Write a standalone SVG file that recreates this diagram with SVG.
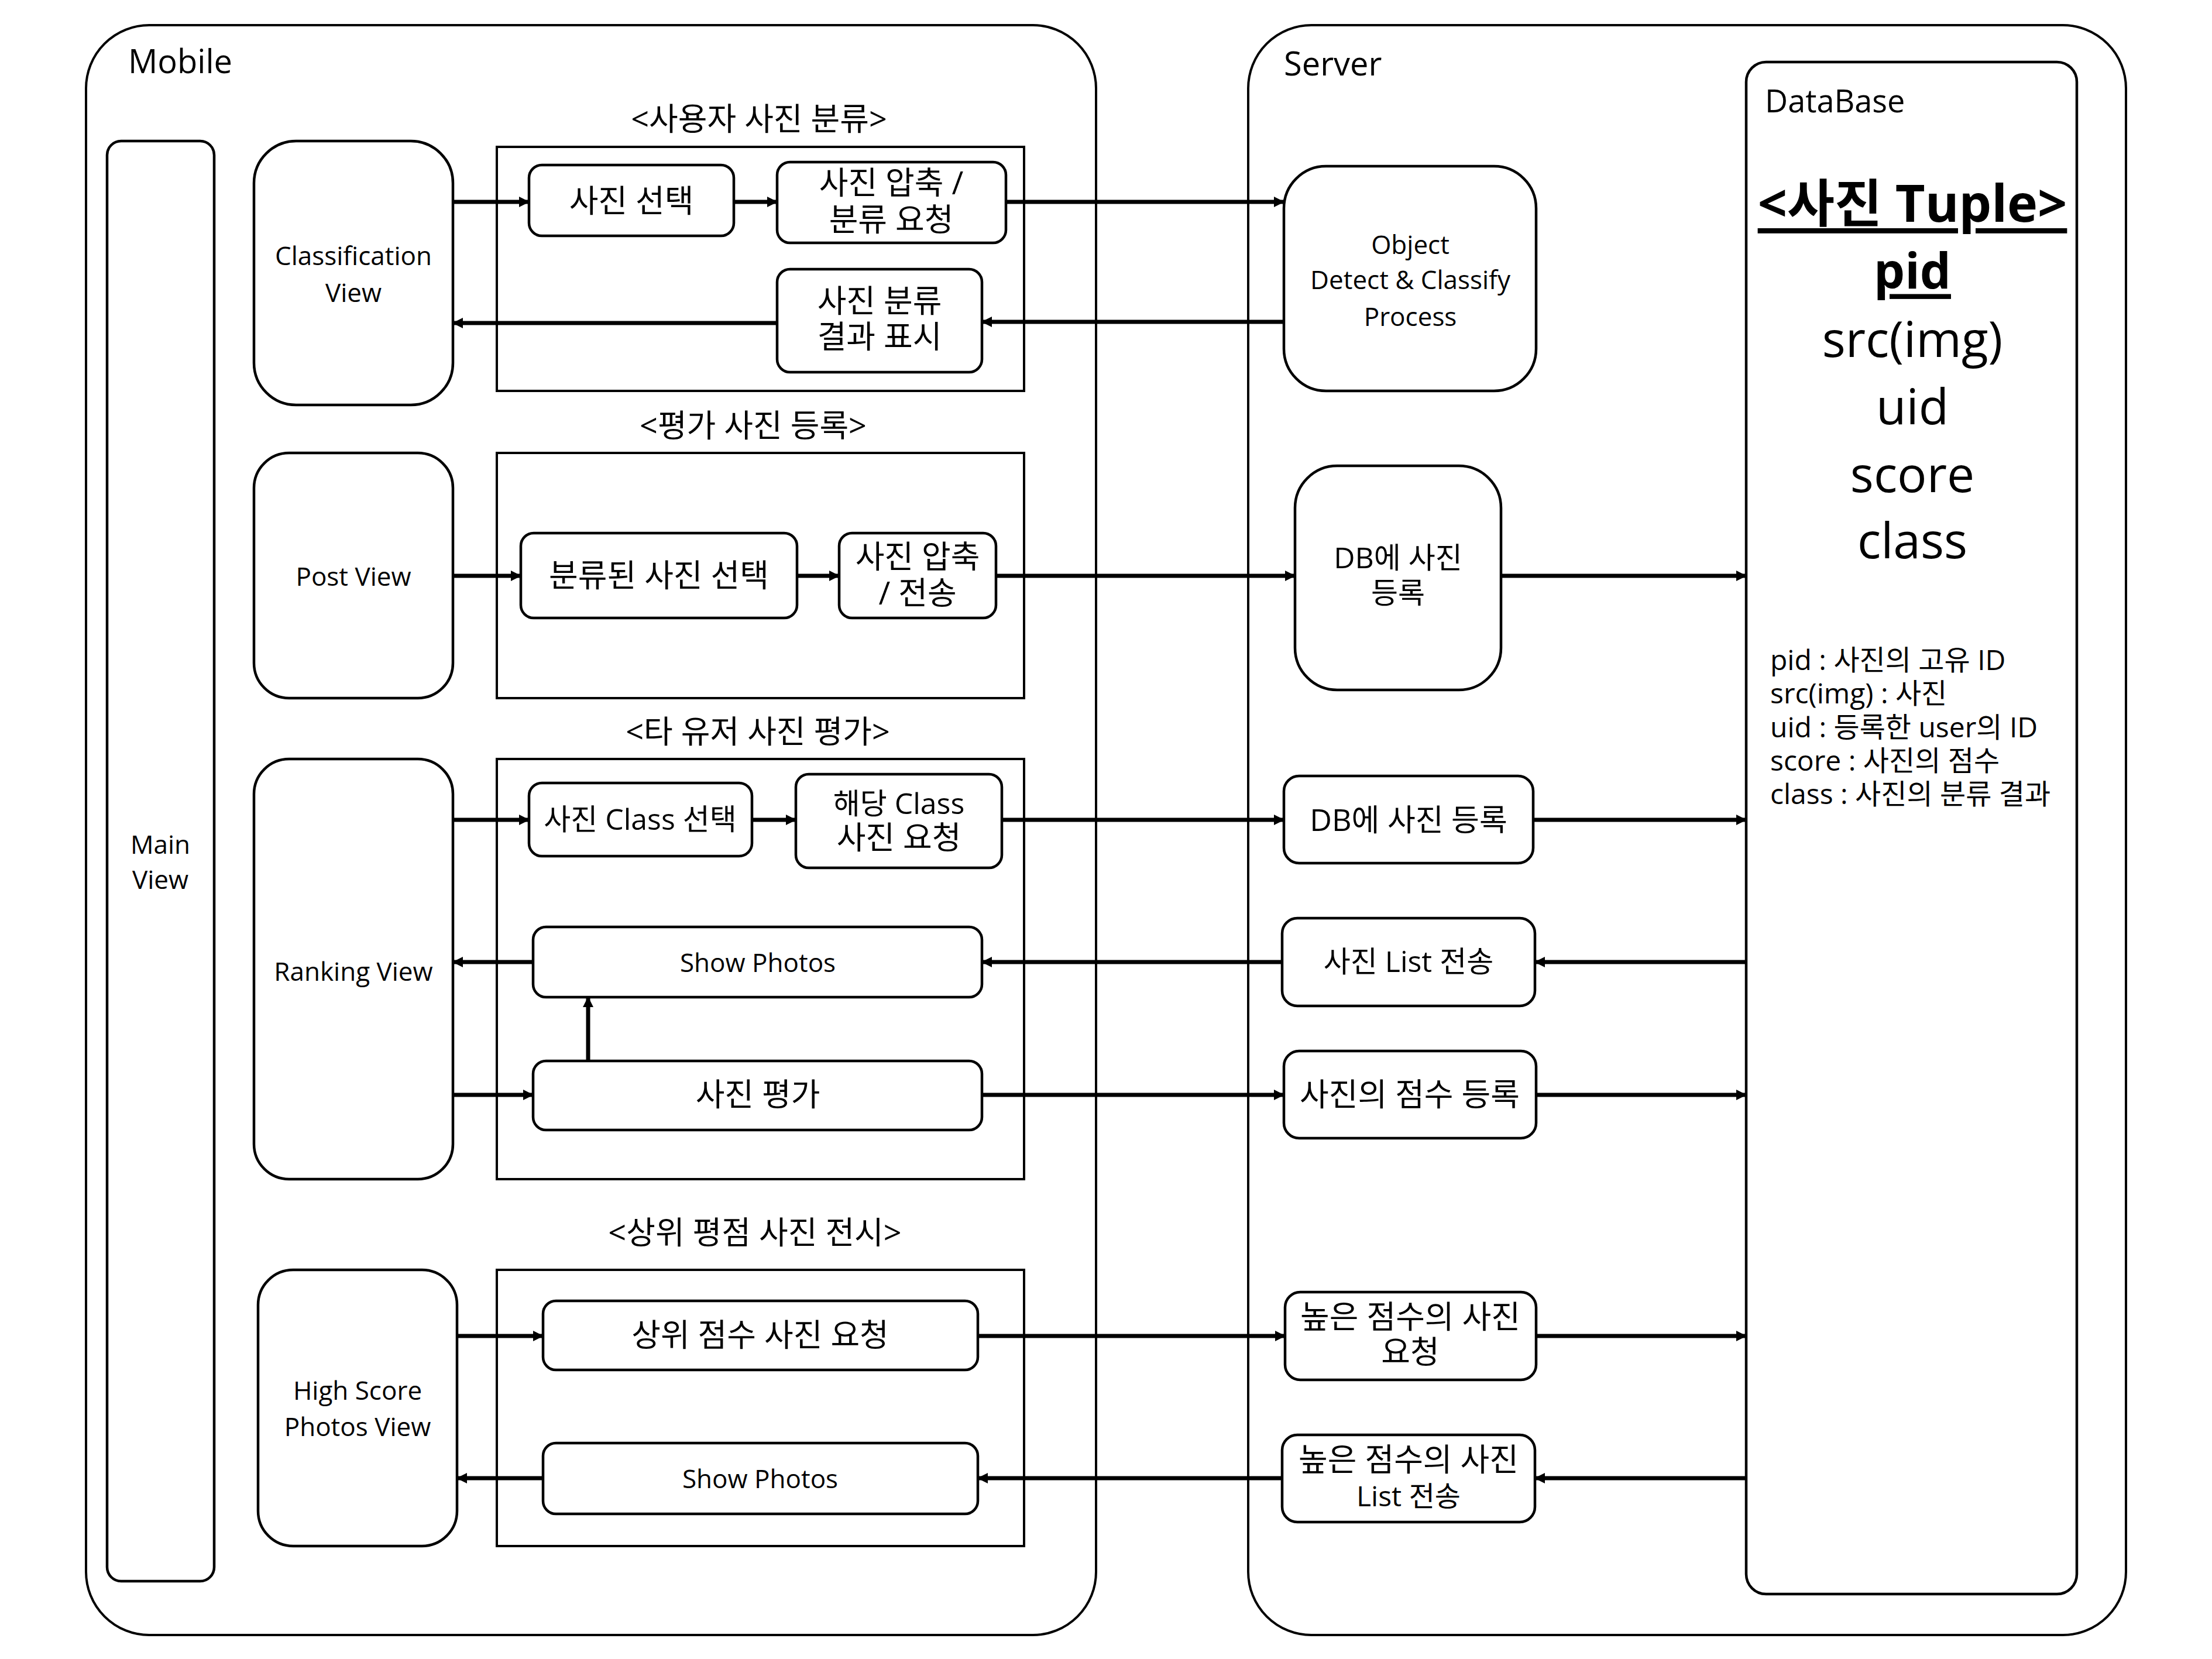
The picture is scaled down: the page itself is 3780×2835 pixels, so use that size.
<svg xmlns="http://www.w3.org/2000/svg" width="3780" height="2835" viewBox="0 0 3780 2835">
<style>
text{font-family:"Open Sans","Noto Sans CJK KR",sans-serif;fill:#000}
.c{text-anchor:middle;dominant-baseline:central}
.k{font-size:54px}
.m{font-size:50px}
.l{font-size:44px}
.t{font-size:54px}
.box{fill:#fff;stroke:#000;stroke-width:4.5}
.grp{fill:none;stroke:#000;stroke-width:4}
.cont{fill:#fff;stroke:#000;stroke-width:4}
.a{stroke:#000;stroke-width:7;fill:none;marker-end:url(#ah)}
.big{font-size:84px}
.d{font-size:48px}
</style>
<defs>
<marker id="ah" markerUnits="userSpaceOnUse" markerWidth="18" markerHeight="20" refX="17" refY="10" orient="auto">
<path d="M0,1 L18,10 L0,19 z" fill="#000"/>
</marker>
</defs>
<rect width="3780" height="2835" fill="#fff"/>

<g id="mobile">
<rect class="cont" x="147" y="43" width="1726" height="2751" rx="108"/>
<text x="219" y="125" font-size="56">Mobile</text>
</g>
<g id="server">
<rect class="cont" x="2133" y="43" width="1500" height="2751" rx="108"/>
<text x="2194" y="129" font-size="56">Server</text>
</g>
<g id="database">
<rect class="box" x="2984" y="106" width="565" height="2618" rx="34" stroke-width="4"/>
<text x="3016" y="192" font-size="54">DataBase</text>
<text class="c" x="3268" y="345" font-size="88" font-weight="bold" text-decoration="underline">&lt;사진 Tuple&gt;</text>
<text class="c big" x="3268" y="460" font-weight="bold" text-decoration="underline">pid</text>
<text class="c big" x="3268" y="577">src(img)</text>
<text class="c big" x="3268" y="692">uid</text>
<text class="c big" x="3268" y="808">score</text>
<text class="c big" x="3268" y="921">class</text>
<text class="d" x="3025" y="1145">pid : 사진의 고유 ID</text>
<text class="d" x="3025" y="1202">src(img) : 사진</text>
<text class="d" x="3025" y="1260">uid : 등록한 user의 ID</text>
<text class="d" x="3025" y="1317">score : 사진의 점수</text>
<text class="d" x="3025" y="1374">class : 사진의 분류 결과</text>
</g>

<g id="main-view">
<rect class="box" x="183" y="241" width="183" height="2461" rx="24"/>
<text class="c l" x="274" y="1442">Main</text>
<text class="c l" x="274" y="1502">View</text>
</g>

<!-- group 1 -->
<g id="grp-classify">
<text class="c t" x="1297" y="202">&lt;사용자 사진 분류&gt;</text>
<rect class="grp" x="849" y="251" width="901" height="417"/>
</g>
<g id="classification-view">
<rect class="box" x="434" y="241" width="340" height="451" rx="72"/>
<text class="c l" x="604" y="436">Classification</text>
<text class="c l" x="604" y="499">View</text>
</g>
<g id="select-photo">
<rect class="box" x="904" y="282" width="350" height="121" rx="22"/>
<text class="c k" x="1079" y="342">사진 선택</text>
</g>
<g id="compress-request">
<rect class="box" x="1328" y="277" width="391" height="138" rx="22"/>
<text class="c k" x="1523" y="311">사진 압축 /</text>
<text class="c k" x="1523" y="374">분류 요청</text>
</g>
<g id="show-result">
<rect class="box" x="1328" y="460" width="350" height="176" rx="22"/>
<text class="c k" x="1503" y="513">사진 분류</text>
<text class="c k" x="1503" y="574">결과 표시</text>
</g>
<g id="object-detect">
<rect class="box" x="2194" y="284" width="431" height="384" rx="72"/>
<text class="c l" x="2410" y="417">Object</text>
<text class="c l" x="2410" y="477">Detect &amp; Classify</text>
<text class="c l" x="2410" y="540">Process</text>
</g>

<!-- group 2 -->
<g id="grp-post">
<text class="c t" x="1287" y="726">&lt;평가 사진 등록&gt;</text>
<rect class="grp" x="849" y="774" width="901" height="419"/>
</g>
<g id="post-view">
<rect class="box" x="434" y="774" width="340" height="419" rx="60"/>
<text class="c l" x="604" y="984">Post View</text>
</g>
<g id="select-classified">
<rect class="box" x="890" y="911" width="472" height="145" rx="22"/>
<text class="c k" x="1126" y="982">분류된 사진 선택</text>
</g>
<g id="compress-send">
<rect class="box" x="1434" y="911" width="268" height="145" rx="22"/>
<text class="c k" x="1568" y="950">사진 압축</text>
<text class="c k" x="1568" y="1012">/ 전송</text>
</g>
<g id="db-register-1">
<rect class="box" x="2213" y="796" width="352" height="383" rx="72"/>
<text class="c m" x="2389" y="952">DB에 사진</text>
<text class="c m" x="2389" y="1012">등록</text>
</g>

<!-- group 3 -->
<g id="grp-rate">
<text class="c t" x="1295" y="1249">&lt;타 유저 사진 평가&gt;</text>
<rect class="grp" x="849" y="1297" width="901" height="718"/>
</g>
<g id="ranking-view">
<rect class="box" x="434" y="1297" width="340" height="718" rx="60"/>
<text class="c l" x="604" y="1659">Ranking View</text>
</g>
<g id="select-class">
<rect class="box" x="904" y="1338" width="381" height="125" rx="22"/>
<text class="c m" x="1094" y="1399">사진 Class 선택</text>
</g>
<g id="class-request">
<rect class="box" x="1360" y="1323" width="352" height="160" rx="22"/>
<text class="c m" x="1536" y="1372">해당 Class</text>
<text class="c k" x="1536" y="1430">사진 요청</text>
</g>
<g id="show-photos-1">
<rect class="box" x="911" y="1584" width="767" height="120" rx="22"/>
<text class="c l" x="1295" y="1644">Show Photos</text>
</g>
<g id="rate-photo">
<rect class="box" x="911" y="1813" width="767" height="118" rx="22"/>
<text class="c k" x="1295" y="1869">사진 평가</text>
</g>
<g id="db-register-2">
<rect class="box" x="2194" y="1326" width="426" height="149" rx="26"/>
<text class="c" font-size="52" x="2407" y="1399">DB에 사진 등록</text>
</g>
<g id="list-send">
<rect class="box" x="2191" y="1569" width="432" height="150" rx="26"/>
<text class="c m" x="2407" y="1642">사진 List 전송</text>
</g>
<g id="score-register">
<rect class="box" x="2194" y="1796" width="431" height="149" rx="26"/>
<text class="c k" x="2409" y="1869">사진의 점수 등록</text>
</g>

<!-- group 4 -->
<g id="grp-top">
<text class="c t" x="1290" y="2105">&lt;상위 평점 사진 전시&gt;</text>
<rect class="grp" x="849" y="2170" width="901" height="472"/>
</g>
<g id="high-score-view">
<rect class="box" x="441" y="2170" width="340" height="472" rx="60"/>
<text class="c l" x="611" y="2375">High Score</text>
<text class="c l" x="611" y="2437">Photos View</text>
</g>
<g id="top-request">
<rect class="box" x="928" y="2223" width="743" height="118" rx="22"/>
<text class="c k" x="1299" y="2280">상위 점수 사진 요청</text>
</g>
<g id="show-photos-2">
<rect class="box" x="928" y="2466" width="743" height="121" rx="22"/>
<text class="c l" x="1299" y="2526">Show Photos</text>
</g>
<g id="high-request">
<rect class="box" x="2196" y="2208" width="429" height="150" rx="26"/>
<text class="c k" x="2410" y="2249">높은 점수의 사진</text>
<text class="c k" x="2410" y="2309">요청</text>
</g>
<g id="high-list-send">
<rect class="box" x="2191" y="2452" width="432" height="149" rx="26"/>
<text class="c k" x="2407" y="2493">높은 점수의 사진</text>
<text class="c" font-size="48" x="2407" y="2555">List 전송</text>
</g>

<g id="connectors">
<line class="a" x1="774" y1="345" x2="904" y2="345"/>
<line class="a" x1="1254" y1="345" x2="1328" y2="345" stroke-width="4"/>
<line class="a" x1="1719" y1="345" x2="2194" y2="345"/>
<line class="a" x1="2194" y1="550" x2="1678" y2="550"/>
<line class="a" x1="1328" y1="552" x2="774" y2="552"/>
<line class="a" x1="774" y1="984" x2="890" y2="984"/>
<line class="a" x1="1362" y1="984" x2="1434" y2="984"/>
<line class="a" x1="1702" y1="984" x2="2213" y2="984"/>
<line class="a" x1="2565" y1="984" x2="2984" y2="984"/>
<line class="a" x1="774" y1="1401" x2="904" y2="1401"/>
<line class="a" x1="1285" y1="1401" x2="1360" y2="1401"/>
<line class="a" x1="1712" y1="1401" x2="2194" y2="1401"/>
<line class="a" x1="2620" y1="1401" x2="2984" y2="1401"/>
<line class="a" x1="2984" y1="1644" x2="2623" y2="1644"/>
<line class="a" x1="2191" y1="1644" x2="1678" y2="1644"/>
<line class="a" x1="911" y1="1644" x2="774" y2="1644"/>
<line class="a" x1="1005" y1="1813" x2="1005" y2="1704" stroke-width="6"/>
<line class="a" x1="774" y1="1871" x2="911" y2="1871"/>
<line class="a" x1="1678" y1="1871" x2="2194" y2="1871"/>
<line class="a" x1="2625" y1="1871" x2="2984" y2="1871"/>
<line class="a" x1="781" y1="2283" x2="928" y2="2283"/>
<line class="a" x1="1671" y1="2283" x2="2196" y2="2283"/>
<line class="a" x1="2625" y1="2283" x2="2984" y2="2283"/>
<line class="a" x1="2984" y1="2526" x2="2623" y2="2526"/>
<line class="a" x1="2191" y1="2526" x2="1671" y2="2526"/>
<line class="a" x1="928" y1="2526" x2="781" y2="2526"/>
</g>
</svg>
